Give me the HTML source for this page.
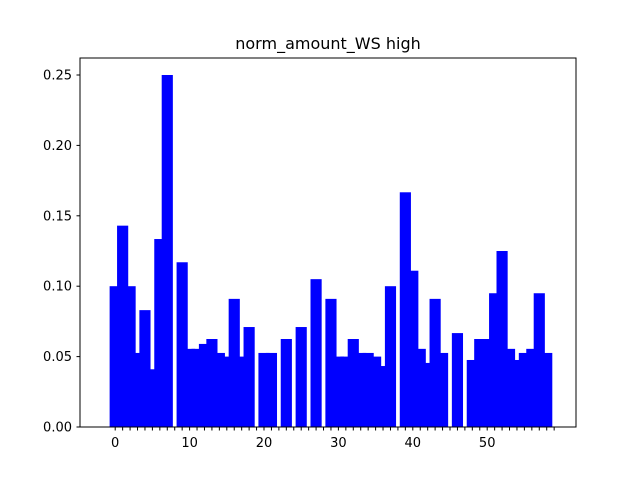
<!DOCTYPE html>
<html><head><meta charset="utf-8"><style>
body{margin:0;background:#fff;}
svg{display:block;font-family:"DejaVu Sans","Liberation Sans",sans-serif;}
</style></head><body>
<svg id="chart" width="640" height="480" viewBox="0 0 640 480">
<rect x="0" y="0" width="640" height="480" fill="#fff"/>
<text x="328" y="49" text-anchor="middle" font-size="16" fill="#000">norm_amount_WS high</text>
<g id="bars"></g>
<g id="xaxis"></g>
<g id="yaxis"></g>
<rect x="80" y="58" width="496" height="369" fill="none" stroke="#000" stroke-width="1"/>
</svg>
<script>
const values = [0.100,0.143,0.100,0.0526,0.083,0.041,0.1335,0.25,0,0.117,
0.0555,0.0555,0.059,0.0625,0.0526,0.050,0.091,0.050,0.071,0,
0.0526,0.0526,0,0.0625,0,0.071,0,0.105,0,0.091,
0.050,0.050,0.0625,0.0526,0.0526,0.050,0.0433,0.100,0,0.1667,
0.111,0.0555,0.0455,0.091,0.0526,0,0.0667,0,0.0476,0.0625,
0.0625,0.095,0.125,0.0555,0.0476,0.0526,0.0555,0.095,0.0526,0];
const yTicks = [0,0.05,0.10,0.15,0.20,0.25];
const yTickLabels = ["0.00","0.05","0.10","0.15","0.20","0.25"];
const xTickLabels = ["0","10","20","30","40","50"];

const NS = "http://www.w3.org/2000/svg";
const X0 = 115.2, XS = 7.44, BW = 1.5;
function xp(v){ return X0 + XS*v; }
function yp(v){ return 427 - v*1408; }
function mk(tag, attrs, parent){
  const e = document.createElementNS(NS, tag);
  for (const k in attrs) e.setAttribute(k, attrs[k]);
  parent.appendChild(e);
  return e;
}
const bars = document.getElementById('bars');
values.forEach((v,i)=>{
  if (v <= 0) return;
  const r = mk('rect', {x: xp(i-BW/2), y: yp(v), width: XS*BW, height: yp(0)-yp(v), fill:'#0000ff'}, bars);
  
  
});
const xa = document.getElementById('xaxis');
values.forEach((v,i)=>{
  const t = mk('line', {x1: xp(i), x2: xp(i), y1: 427, y2: 430.5, stroke:'#000', 'stroke-width':1}, xa);
  
  
});
xTickLabels.forEach(l=>{
  const t = mk('text', {x: xp(+l), y: 447, 'text-anchor':'middle', 'font-size':13, fill:'#000'}, xa);
  t.textContent = l;
  
  
});
const ya = document.getElementById('yaxis');
yTicks.forEach((v,i)=>{
  const t = mk('line', {x1: 76.5, x2: 80, y1: yp(v), y2: yp(v), stroke:'#000', 'stroke-width':1}, ya);
  
  
  const l = mk('text', {x: 72, y: yp(v)+4.5, 'text-anchor':'end', 'font-size':13, fill:'#000'}, ya);
  l.textContent = yTickLabels[i];
  
  
});
</script>
</body></html>
